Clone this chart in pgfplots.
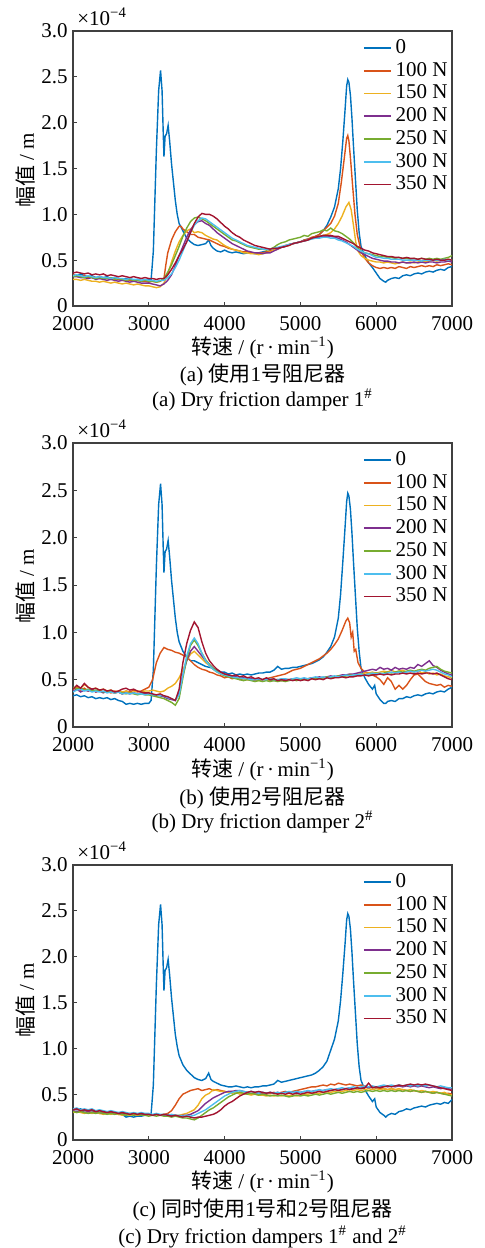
\documentclass[border=0pt]{standalone}
\usepackage{fontspec}
\setmainfont{Liberation Serif}
\newfontfamily\cjk{Noto Sans CJK SC}
\usepackage{pgfplots}
\pgfplotsset{compat=1.18}
\definecolor{c0}{RGB}{0,114,189}
\definecolor{c1}{RGB}{217,83,25}
\definecolor{c2}{RGB}{237,177,32}
\definecolor{c3}{RGB}{126,47,142}
\definecolor{c4}{RGB}{119,172,48}
\definecolor{c5}{RGB}{77,190,238}
\definecolor{c6}{RGB}{162,20,47}
\newcommand{\fs}{\fontsize{10.5}{12}\selectfont}
\pgfplotsset{legend image code/.code={\draw[#1, line width=0.9pt] (0pt,0pt) -- (13.5pt,0pt);}}
\pgfplotsset{panel/.style={
  scale only axis, width=189.5pt, anchor=south west,
  xmin=2000, xmax=7000, ymin=0, ymax=3,
  xtick={2000,3000,4000,5000,6000,7000},
  xticklabels={2000,3000,4000,5000,6000,7000},
  ytick={0,0.5,1,1.5,2,2.5,3},
  yticklabels={0,0.5,1.0,1.5,2.0,2.5,3.0},
  tick pos=left, tick align=inside, major tick length=2pt,
  ticklabel style={font=\fs, inner sep=0.5pt},
  xticklabel style={yshift=-4.8pt},
  yticklabel style={xshift=-2pt},
  axis line style={line width=0.6pt, black!75},
  every tick/.style={black!75, line width=0.5pt},
  every axis plot/.append style={line width=0.7pt, no markers},
  legend style={draw=none, fill=none, at={(1,1)}, anchor=north east,
    font=\fs, row sep=-1.1pt, inner sep=1pt, xshift=1pt, yshift=-1pt},
  legend cell align=left,
}}
\begin{document}
\begin{tikzpicture}
\useasboundingbox (0pt,0pt) rectangle (242pt,-624pt);
% ---------------- panel (a)
\begin{axis}[panel, height=137.5pt, at={(36.5pt,-153pt)}]
\addplot[c0] coordinates {(2000,.34)(2050,.33)(2100,.35)(2150,.33)(2200,.32)(2250,.33)(2300,.31)(2350,.32)(2400,.31)(2450,.32)(2500,.30)(2550,.31)(2600,.30)(2650,.29)(2700,.30)(2750,.29)(2800,.28)(2850,.29)(2900,.28)(2950,.28)(3000,.29)(3030,.28)(3060,.6)(3100,1.7)(3130,2.35)(3155,2.57)(3175,2.35)(3190,1.9)(3200,1.63)(3215,1.85)(3235,1.88)(3255,1.97)(3275,1.80)(3300,1.55)(3325,1.35)(3350,1.15)(3375,1.00)(3400,0.90)(3450,0.82)(3500,0.74)(3550,0.70)(3600,0.67)(3650,0.66)(3700,0.67)(3750,0.68)(3790,0.72)(3820,0.66)(3850,0.63)(3900,0.60)(3950,0.59)(4000,0.61)(4050,0.59)(4100,0.58)(4150,0.59)(4200,0.58)(4250,0.57)(4300,0.58)(4350,0.58)(4400,0.57)(4450,0.58)(4500,0.59)(4550,0.59)(4600,0.60)(4650,0.61)(4700,0.63)(4750,0.64)(4800,0.65)(4850,0.67)(4900,0.68)(4950,0.69)(5000,0.70)(5050,0.72)(5100,0.73)(5150,0.74)(5200,0.76)(5250,0.78)(5300,0.82)(5350,0.88)(5400,0.97)(5450,1.08)(5500,1.28)(5530,1.50)(5560,1.80)(5590,2.15)(5610,2.40)(5625,2.47)(5640,2.44)(5660,2.30)(5680,2.05)(5700,1.75)(5725,1.40)(5750,1.05)(5775,0.80)(5800,0.65)(5850,0.55)(5900,0.47)(5950,0.42)(6000,0.36)(6050,0.30)(6100,0.27)(6125,0.26)(6150,0.28)(6200,0.30)(6250,0.31)(6300,0.30)(6350,0.33)(6400,0.34)(6450,0.33)(6500,0.35)(6550,0.36)(6600,0.35)(6650,0.37)(6700,0.38)(6750,0.37)(6800,0.39)(6850,0.40)(6900,0.39)(6950,0.42)(7000,0.43)};
\addplot[c1] coordinates {(2000,.34)(2050,.33)(2100,.32)(2150,.33)(2200,.31)(2250,.32)(2300,.31)(2350,.30)(2400,.31)(2450,.30)(2500,.29)(2550,.30)(2600,.29)(2650,.28)(2700,.29)(2750,.28)(2800,.27)(2850,.28)(2900,.27)(2950,.27)(3000,.26)(3050,.27)(3100,.26)(3150,.27)(3200,.30)(3225,.45)(3250,.58)(3300,.72)(3350,.81)(3400,.87)(3425,.87)(3450,.84)(3500,.81)(3550,.78)(3600,.78)(3650,.75)(3700,.74)(3750,.73)(3800,.72)(3850,.70)(3900,.68)(3950,.66)(4000,.65)(4050,.63)(4100,.62)(4150,.61)(4200,.60)(4250,.59)(4300,.59)(4350,.58)(4400,.58)(4450,.58)(4500,.58)(4550,.59)(4600,.60)(4650,.61)(4700,.63)(4750,.64)(4800,.66)(4850,.67)(4900,.68)(4950,.69)(5000,.70)(5050,.72)(5100,.73)(5150,.75)(5200,.76)(5250,.78)(5300,.82)(5350,.86)(5400,.90)(5450,.98)(5500,1.12)(5540,1.35)(5580,1.62)(5610,1.83)(5625,1.86)(5640,1.80)(5660,1.62)(5690,1.30)(5720,1.00)(5750,.78)(5800,.60)(5850,.52)(5900,.47)(5950,.44)(6000,.42)(6050,.41)(6100,.42)(6150,.41)(6200,.42)(6250,.41)(6300,.43)(6350,.42)(6400,.41)(6450,.43)(6500,.42)(6550,.43)(6600,.44)(6650,.43)(6700,.44)(6750,.43)(6800,.45)(6850,.44)(6900,.45)(6950,.46)(7000,.45)};
\addplot[c2] coordinates {(2000,.29)(2050,.29)(2100,.28)(2150,.29)(2200,.28)(2250,.27)(2300,.27)(2350,.26)(2400,.27)(2450,.26)(2500,.25)(2550,.26)(2600,.25)(2650,.24)(2700,.25)(2750,.24)(2800,.23)(2850,.24)(2900,.23)(2950,.22)(3000,.22)(3050,.21)(3100,.20)(3150,.21)(3200,.25)(3250,.35)(3300,.48)(3350,.60)(3400,.70)(3450,.77)(3500,.82)(3550,.84)(3600,.80)(3650,.81)(3700,.80)(3750,.77)(3800,.75)(3850,.73)(3900,.72)(3950,.69)(4000,.66)(4050,.64)(4100,.62)(4150,.61)(4200,.60)(4250,.58)(4300,.58)(4350,.57)(4400,.57)(4450,.56)(4500,.57)(4550,.58)(4600,.59)(4650,.61)(4700,.62)(4750,.64)(4800,.65)(4850,.66)(4900,.68)(4950,.69)(5000,.70)(5050,.71)(5100,.72)(5150,.74)(5200,.75)(5250,.76)(5300,.77)(5350,.78)(5400,.80)(5450,.84)(5500,.90)(5550,.98)(5600,1.08)(5640,1.13)(5670,1.05)(5700,.88)(5730,.70)(5760,.60)(5800,.55)(5850,.52)(5900,.50)(5950,.49)(6000,.48)(6050,.48)(6100,.47)(6150,.48)(6200,.47)(6250,.46)(6300,.47)(6350,.48)(6400,.47)(6450,.48)(6500,.47)(6550,.48)(6600,.49)(6650,.48)(6700,.49)(6750,.50)(6800,.49)(6850,.50)(6900,.50)(6950,.51)(7000,.50)};
\addplot[c3] coordinates {(2000,.32)(2050,.32)(2100,.31)(2150,.31)(2200,.30)(2250,.31)(2300,.29)(2350,.30)(2400,.29)(2450,.28)(2500,.29)(2550,.28)(2600,.27)(2650,.28)(2700,.27)(2750,.26)(2800,.27)(2850,.26)(2900,.25)(2950,.25)(3000,.25)(3050,.24)(3100,.23)(3150,.22)(3200,.24)(3250,.28)(3300,.34)(3350,.44)(3400,.55)(3450,.65)(3500,.75)(3550,.83)(3600,.89)(3650,.92)(3700,.93)(3750,.90)(3800,.88)(3850,.84)(3900,.80)(3950,.77)(4000,.74)(4050,.71)(4100,.68)(4150,.66)(4200,.64)(4250,.62)(4300,.60)(4350,.59)(4400,.58)(4450,.58)(4500,.57)(4550,.58)(4600,.58)(4650,.60)(4700,.62)(4750,.64)(4800,.65)(4850,.67)(4900,.68)(4950,.69)(5000,.70)(5050,.71)(5100,.72)(5150,.74)(5200,.75)(5250,.75)(5300,.76)(5350,.76)(5400,.76)(5450,.75)(5500,.74)(5550,.72)(5600,.70)(5650,.67)(5700,.64)(5750,.61)(5800,.58)(5850,.56)(5900,.54)(5950,.52)(6000,.51)(6050,.50)(6100,.49)(6150,.49)(6200,.48)(6250,.48)(6300,.47)(6350,.48)(6400,.47)(6450,.47)(6500,.48)(6550,.47)(6600,.48)(6650,.47)(6700,.48)(6750,.48)(6800,.47)(6850,.48)(6900,.48)(6950,.49)(7000,.48)};
\addplot[c4] coordinates {(2000,.32)(2050,.33)(2100,.32)(2150,.31)(2200,.32)(2250,.31)(2300,.30)(2350,.31)(2400,.30)(2450,.30)(2500,.31)(2550,.29)(2600,.30)(2650,.29)(2700,.28)(2750,.29)(2800,.28)(2850,.28)(2900,.27)(2950,.28)(3000,.27)(3050,.27)(3100,.26)(3150,.27)(3200,.30)(3250,.37)(3300,.45)(3350,.55)(3400,.65)(3450,.76)(3500,.85)(3550,.92)(3600,.96)(3650,.97)(3700,.95)(3750,.93)(3800,.90)(3850,.87)(3900,.84)(3950,.81)(4000,.78)(4050,.75)(4100,.72)(4150,.71)(4200,.69)(4250,.67)(4300,.65)(4350,.64)(4400,.63)(4450,.62)(4500,.62)(4550,.61)(4600,.62)(4650,.64)(4700,.67)(4750,.69)(4800,.70)(4850,.72)(4900,.73)(4950,.74)(5000,.75)(5050,.77)(5100,.76)(5150,.79)(5200,.80)(5250,.81)(5300,.83)(5350,.82)(5400,.85)(5450,.82)(5500,.81)(5550,.79)(5600,.76)(5650,.73)(5700,.69)(5750,.64)(5800,.60)(5850,.58)(5900,.57)(5950,.56)(6000,.55)(6050,.54)(6100,.54)(6150,.53)(6200,.53)(6250,.52)(6300,.53)(6350,.52)(6400,.52)(6450,.51)(6500,.52)(6550,.51)(6600,.52)(6650,.51)(6700,.52)(6750,.51)(6800,.52)(6850,.51)(6900,.52)(6950,.53)(7000,.55)};
\addplot[c5] coordinates {(2000,.33)(2050,.34)(2100,.33)(2150,.32)(2200,.33)(2250,.32)(2300,.31)(2350,.32)(2400,.31)(2450,.31)(2500,.30)(2550,.31)(2600,.30)(2650,.30)(2700,.29)(2750,.30)(2800,.29)(2850,.29)(2900,.28)(2950,.29)(3000,.28)(3050,.28)(3100,.27)(3150,.28)(3200,.28)(3250,.31)(3300,.35)(3350,.42)(3400,.50)(3450,.60)(3500,.70)(3550,.80)(3600,.88)(3650,.93)(3700,.96)(3750,.95)(3800,.92)(3850,.89)(3900,.86)(3950,.83)(4000,.80)(4050,.77)(4100,.74)(4150,.72)(4200,.70)(4250,.68)(4300,.66)(4350,.65)(4400,.64)(4450,.63)(4500,.62)(4550,.62)(4600,.62)(4650,.63)(4700,.64)(4750,.65)(4800,.66)(4850,.67)(4900,.68)(4950,.69)(5000,.70)(5050,.71)(5100,.72)(5150,.73)(5200,.74)(5250,.74)(5300,.75)(5350,.75)(5400,.74)(5450,.74)(5500,.72)(5550,.71)(5600,.69)(5650,.67)(5700,.65)(5750,.62)(5800,.60)(5850,.58)(5900,.57)(5950,.55)(6000,.53)(6050,.53)(6100,.52)(6150,.52)(6200,.51)(6250,.51)(6300,.51)(6350,.50)(6400,.50)(6450,.50)(6500,.50)(6550,.50)(6600,.49)(6650,.50)(6700,.50)(6750,.50)(6800,.50)(6850,.50)(6900,.51)(6950,.50)(7000,.50)};
\addplot[c6] coordinates {(2000,.36)(2050,.37)(2100,.36)(2150,.35)(2200,.36)(2250,.34)(2300,.35)(2350,.34)(2400,.35)(2450,.33)(2500,.34)(2550,.33)(2600,.32)(2650,.33)(2700,.32)(2750,.31)(2800,.32)(2850,.31)(2900,.30)(2950,.31)(3000,.30)(3050,.30)(3100,.29)(3150,.30)(3200,.30)(3250,.34)(3300,.40)(3350,.47)(3400,.55)(3450,.62)(3500,.70)(3550,.80)(3600,.90)(3650,.97)(3700,1.01)(3750,1.00)(3800,1.00)(3850,.98)(3900,.95)(3950,.91)(4000,.87)(4050,.84)(4100,.80)(4150,.77)(4200,.75)(4250,.72)(4300,.70)(4350,.68)(4400,.66)(4450,.65)(4500,.64)(4550,.63)(4600,.62)(4650,.63)(4700,.63)(4750,.64)(4800,.65)(4850,.66)(4900,.68)(4950,.69)(5000,.70)(5050,.71)(5100,.72)(5150,.74)(5200,.75)(5250,.76)(5300,.77)(5350,.77)(5400,.77)(5450,.76)(5500,.76)(5550,.74)(5600,.72)(5650,.70)(5700,.68)(5750,.65)(5800,.63)(5850,.61)(5900,.60)(5950,.58)(6000,.57)(6050,.56)(6100,.55)(6150,.54)(6200,.54)(6250,.53)(6300,.53)(6350,.52)(6400,.53)(6450,.52)(6500,.52)(6550,.51)(6600,.52)(6650,.51)(6700,.51)(6750,.50)(6800,.51)(6850,.50)(6900,.50)(6950,.51)(7000,.50)};
\legend{0,100 N,150 N,200 N,250 N,300 N,350 N}
\end{axis}
% ---------------- panel (b)
\begin{axis}[panel, height=142pt, at={(36.5pt,-363.5pt)}]
\addplot[c0] coordinates {(2000,.33)(2050,.34)(2100,.32)(2150,.33)(2200,.31)(2250,.32)(2300,.30)(2350,.31)(2400,.30)(2450,.31)(2500,.29)(2550,.30)(2600,.28)(2650,.27)(2700,.24)(2750,.25)(2800,.24)(2850,.25)(2900,.24)(2950,.25)(3000,.25)(3030,.28)(3060,.6)(3100,1.7)(3130,2.35)(3155,2.57)(3175,2.35)(3190,1.9)(3200,1.63)(3215,1.85)(3235,1.88)(3255,1.97)(3275,1.80)(3300,1.55)(3325,1.35)(3350,1.15)(3375,1.00)(3400,0.90)(3450,0.80)(3500,0.74)(3550,0.70)(3600,0.70)(3650,0.68)(3700,0.66)(3750,0.64)(3800,0.63)(3850,0.62)(3900,0.60)(3950,0.58)(4000,0.58)(4050,0.56)(4100,0.57)(4150,0.55)(4200,0.56)(4250,0.55)(4300,0.56)(4350,0.55)(4400,0.56)(4450,0.57)(4500,0.57)(4550,0.58)(4600,0.58)(4650,0.60)(4700,0.64)(4750,0.61)(4800,0.62)(4850,0.62)(4900,0.63)(4950,0.63)(5000,0.64)(5050,0.65)(5100,0.66)(5150,0.67)(5200,0.69)(5250,0.71)(5300,0.74)(5350,0.79)(5400,0.85)(5450,0.95)(5500,1.15)(5530,1.40)(5560,1.75)(5590,2.12)(5610,2.38)(5625,2.47)(5640,2.44)(5660,2.30)(5680,2.05)(5700,1.75)(5725,1.40)(5750,1.05)(5775,0.80)(5800,0.62)(5850,0.52)(5900,0.45)(5950,0.40)(5980,0.44)(6000,0.35)(6050,0.29)(6100,0.25)(6125,0.25)(6150,0.27)(6200,0.28)(6250,0.27)(6300,0.30)(6350,0.30)(6400,0.32)(6450,0.31)(6500,0.33)(6550,0.34)(6600,0.33)(6650,0.35)(6700,0.36)(6750,0.35)(6800,0.37)(6850,0.38)(6900,0.37)(6950,0.40)(7000,0.42)};
\addplot[c1] coordinates {(2000,.40)(2050,.42)(2100,.39)(2150,.41)(2200,.38)(2250,.40)(2300,.37)(2350,.39)(2400,.37)(2450,.38)(2500,.36)(2550,.38)(2600,.37)(2650,.35)(2700,.38)(2750,.37)(2800,.39)(2850,.37)(2900,.38)(2950,.40)(3000,.42)(3050,.50)(3100,.68)(3150,.78)(3200,.84)(3250,.82)(3300,.81)(3350,.79)(3400,.78)(3450,.76)(3500,.74)(3550,.70)(3600,.66)(3650,.63)(3700,.61)(3750,.60)(3800,.58)(3850,.57)(3900,.55)(3950,.54)(4000,.52)(4050,.53)(4100,.51)(4150,.52)(4200,.50)(4250,.51)(4300,.50)(4350,.50)(4400,.49)(4450,.50)(4500,.50)(4550,.51)(4600,.52)(4650,.53)(4700,.54)(4750,.55)(4800,.56)(4850,.58)(4900,.60)(4950,.61)(5000,.62)(5050,.64)(5100,.66)(5150,.68)(5200,.70)(5250,.72)(5300,.75)(5350,.78)(5400,.82)(5450,.87)(5500,.93)(5550,1.02)(5600,1.12)(5625,1.15)(5650,1.10)(5670,.95)(5690,1.00)(5710,.80)(5730,.82)(5760,.68)(5800,.62)(5850,.58)(5900,.57)(5950,.55)(6000,.53)(6050,.50)(6100,.45)(6150,.52)(6200,.48)(6250,.40)(6300,.44)(6350,.40)(6400,.44)(6450,.50)(6500,.55)(6550,.56)(6600,.52)(6650,.48)(6700,.46)(6750,.45)(6800,.44)(6850,.45)(6900,.42)(6950,.44)(7000,.43)};
\addplot[c2] coordinates {(2000,.40)(2050,.43)(2100,.41)(2150,.45)(2200,.42)(2250,.40)(2300,.41)(2350,.39)(2400,.40)(2450,.38)(2500,.39)(2550,.37)(2600,.38)(2650,.37)(2700,.38)(2750,.36)(2800,.37)(2850,.38)(2900,.37)(2950,.38)(3000,.38)(3050,.39)(3100,.38)(3150,.37)(3200,.38)(3250,.41)(3300,.43)(3350,.46)(3400,.52)(3450,.60)(3500,.70)(3550,.77)(3600,.80)(3650,.76)(3700,.72)(3750,.68)(3800,.65)(3850,.61)(3900,.58)(3950,.56)(4000,.55)(4050,.54)(4100,.53)(4150,.52)(4200,.52)(4250,.51)(4300,.50)(4350,.51)(4400,.50)(4450,.49)(4500,.50)(4550,.50)(4600,.49)(4650,.50)(4700,.50)(4750,.49)(4800,.50)(4850,.50)(4900,.51)(4950,.50)(5000,.50)(5050,.51)(5100,.51)(5150,.52)(5200,.51)(5250,.52)(5300,.52)(5350,.53)(5400,.52)(5450,.53)(5500,.53)(5550,.54)(5600,.54)(5650,.55)(5700,.55)(5750,.56)(5800,.56)(5850,.57)(5900,.57)(5950,.58)(6000,.57)(6050,.58)(6100,.59)(6150,.58)(6200,.60)(6250,.58)(6300,.59)(6350,.60)(6400,.58)(6450,.59)(6500,.58)(6550,.60)(6600,.57)(6650,.58)(6700,.56)(6750,.57)(6800,.55)(6850,.56)(6900,.54)(6950,.53)(7000,.52)};
\addplot[c3] coordinates {(2000,.38)(2050,.40)(2100,.37)(2150,.39)(2200,.38)(2250,.40)(2300,.37)(2350,.38)(2400,.36)(2450,.38)(2500,.37)(2550,.36)(2600,.37)(2650,.35)(2700,.36)(2750,.35)(2800,.36)(2850,.35)(2900,.36)(2950,.35)(3000,.36)(3050,.34)(3100,.33)(3150,.33)(3200,.32)(3250,.30)(3300,.29)(3350,.28)(3400,.36)(3450,.55)(3500,.70)(3550,.80)(3600,.85)(3650,.80)(3700,.75)(3750,.70)(3800,.66)(3850,.62)(3900,.60)(3950,.58)(4000,.56)(4050,.55)(4100,.54)(4150,.53)(4200,.52)(4250,.52)(4300,.51)(4350,.51)(4400,.50)(4450,.50)(4500,.50)(4550,.51)(4600,.50)(4650,.49)(4700,.50)(4750,.49)(4800,.50)(4850,.50)(4900,.51)(4950,.50)(5000,.50)(5050,.51)(5100,.51)(5150,.52)(5200,.52)(5250,.53)(5300,.52)(5350,.53)(5400,.54)(5450,.53)(5500,.54)(5550,.55)(5600,.55)(5650,.56)(5700,.56)(5750,.57)(5800,.58)(5850,.59)(5900,.60)(5950,.61)(6000,.60)(6050,.63)(6100,.61)(6150,.62)(6200,.60)(6250,.63)(6300,.61)(6350,.62)(6400,.61)(6450,.63)(6500,.62)(6550,.66)(6600,.64)(6650,.67)(6700,.70)(6750,.65)(6800,.63)(6850,.60)(6900,.58)(6950,.56)(7000,.55)};
\addplot[c4] coordinates {(2000,.42)(2050,.40)(2100,.41)(2150,.39)(2200,.40)(2250,.38)(2300,.39)(2350,.38)(2400,.37)(2450,.38)(2500,.37)(2550,.36)(2600,.37)(2650,.36)(2700,.35)(2750,.36)(2800,.35)(2850,.34)(2900,.35)(2950,.34)(3000,.34)(3050,.33)(3100,.32)(3150,.31)(3200,.30)(3250,.28)(3300,.26)(3350,.23)(3400,.30)(3450,.52)(3500,.72)(3550,.86)(3600,.92)(3650,.86)(3700,.78)(3750,.71)(3800,.66)(3850,.62)(3900,.59)(3950,.56)(4000,.54)(4050,.53)(4100,.52)(4150,.51)(4200,.50)(4250,.49)(4300,.50)(4350,.49)(4400,.48)(4450,.49)(4500,.48)(4550,.49)(4600,.48)(4650,.49)(4700,.48)(4750,.49)(4800,.48)(4850,.49)(4900,.50)(4950,.49)(5000,.50)(5050,.50)(5100,.51)(5150,.51)(5200,.52)(5250,.51)(5300,.52)(5350,.53)(5400,.52)(5450,.53)(5500,.54)(5550,.53)(5600,.54)(5650,.55)(5700,.54)(5750,.55)(5800,.56)(5850,.55)(5900,.56)(5950,.56)(6000,.57)(6050,.56)(6100,.57)(6150,.58)(6200,.57)(6250,.58)(6300,.59)(6350,.58)(6400,.59)(6450,.60)(6500,.59)(6550,.60)(6600,.61)(6650,.60)(6700,.62)(6750,.63)(6800,.64)(6850,.61)(6900,.59)(6950,.58)(7000,.57)};
\addplot[c5] coordinates {(2000,.37)(2050,.39)(2100,.40)(2150,.38)(2200,.39)(2250,.37)(2300,.38)(2350,.37)(2400,.38)(2450,.36)(2500,.37)(2550,.36)(2600,.37)(2650,.35)(2700,.36)(2750,.35)(2800,.36)(2850,.35)(2900,.35)(2950,.34)(3000,.35)(3050,.34)(3100,.34)(3150,.33)(3200,.33)(3250,.31)(3300,.30)(3350,.28)(3400,.34)(3450,.55)(3500,.75)(3550,.88)(3600,.94)(3650,.88)(3700,.78)(3750,.70)(3800,.65)(3850,.61)(3900,.58)(3950,.56)(4000,.55)(4050,.54)(4100,.53)(4150,.52)(4200,.52)(4250,.51)(4300,.51)(4350,.50)(4400,.50)(4450,.51)(4500,.50)(4550,.50)(4600,.51)(4650,.50)(4700,.50)(4750,.51)(4800,.51)(4850,.50)(4900,.51)(4950,.52)(5000,.51)(5050,.52)(5100,.51)(5150,.52)(5200,.53)(5250,.52)(5300,.53)(5350,.52)(5400,.53)(5450,.54)(5500,.53)(5550,.54)(5600,.55)(5650,.54)(5700,.55)(5750,.55)(5800,.56)(5850,.55)(5900,.56)(5950,.57)(6000,.56)(6050,.57)(6100,.56)(6150,.57)(6200,.58)(6250,.57)(6300,.58)(6350,.57)(6400,.58)(6450,.59)(6500,.58)(6550,.59)(6600,.60)(6650,.59)(6700,.60)(6750,.61)(6800,.60)(6850,.58)(6900,.56)(6950,.55)(7000,.53)};
\addplot[c6] coordinates {(2000,.40)(2050,.44)(2100,.41)(2150,.46)(2200,.42)(2250,.40)(2300,.41)(2350,.39)(2400,.40)(2450,.38)(2500,.39)(2550,.37)(2600,.38)(2650,.40)(2700,.41)(2750,.39)(2800,.40)(2850,.38)(2900,.37)(2950,.36)(3000,.36)(3050,.35)(3100,.34)(3150,.35)(3200,.33)(3250,.32)(3300,.30)(3350,.28)(3400,.40)(3450,.68)(3500,.88)(3550,1.02)(3600,1.11)(3650,1.05)(3700,.90)(3750,.78)(3800,.70)(3850,.65)(3900,.61)(3950,.58)(4000,.56)(4050,.55)(4100,.54)(4150,.55)(4200,.53)(4250,.54)(4300,.52)(4350,.53)(4400,.51)(4450,.52)(4500,.50)(4550,.52)(4600,.50)(4650,.51)(4700,.49)(4750,.50)(4800,.49)(4850,.50)(4900,.49)(4950,.50)(5000,.49)(5050,.50)(5100,.49)(5150,.51)(5200,.50)(5250,.51)(5300,.50)(5350,.52)(5400,.51)(5450,.52)(5500,.52)(5550,.53)(5600,.52)(5650,.53)(5700,.53)(5750,.54)(5800,.54)(5850,.55)(5900,.54)(5950,.55)(6000,.55)(6050,.56)(6100,.55)(6150,.56)(6200,.55)(6250,.56)(6300,.56)(6350,.57)(6400,.56)(6450,.57)(6500,.56)(6550,.57)(6600,.56)(6650,.57)(6700,.57)(6750,.56)(6800,.57)(6850,.55)(6900,.53)(6950,.51)(7000,.50)};
\legend{0,100 N,150 N,200 N,250 N,300 N,350 N}
\end{axis}
% ---------------- panel (c)
\begin{axis}[panel, height=137.5pt, at={(36.5pt,-570pt)}]
\addplot[c0] coordinates {(2000,.34)(2050,.33)(2100,.34)(2150,.32)(2200,.33)(2250,.32)(2300,.31)(2350,.32)(2400,.31)(2450,.30)(2500,.31)(2550,.30)(2600,.29)(2650,.28)(2700,.25)(2750,.26)(2800,.25)(2850,.26)(2900,.26)(2950,.27)(3000,.28)(3030,.28)(3060,.6)(3100,1.7)(3130,2.35)(3155,2.57)(3175,2.35)(3190,1.9)(3200,1.63)(3215,1.85)(3235,1.88)(3255,1.97)(3275,1.80)(3300,1.55)(3325,1.35)(3350,1.15)(3375,1.02)(3400,0.92)(3450,0.82)(3500,0.76)(3550,0.72)(3600,0.68)(3650,0.66)(3700,0.65)(3750,0.67)(3790,0.73)(3820,0.66)(3850,0.64)(3900,0.62)(3950,0.60)(4000,0.59)(4050,0.58)(4100,0.58)(4150,0.59)(4200,0.58)(4250,0.57)(4300,0.58)(4350,0.57)(4400,0.58)(4450,0.58)(4500,0.59)(4550,0.59)(4600,0.60)(4650,0.61)(4700,0.65)(4750,0.63)(4800,0.64)(4850,0.65)(4900,0.66)(4950,0.67)(5000,0.68)(5050,0.69)(5100,0.70)(5150,0.71)(5200,0.73)(5250,0.76)(5300,0.80)(5350,0.86)(5400,0.98)(5450,1.10)(5500,1.30)(5530,1.52)(5560,1.82)(5590,2.15)(5610,2.40)(5625,2.47)(5640,2.44)(5660,2.30)(5680,2.05)(5700,1.75)(5725,1.40)(5750,1.05)(5775,0.80)(5800,0.65)(5850,0.55)(5900,0.48)(5950,0.42)(5980,0.45)(6000,0.36)(6050,0.30)(6100,0.27)(6125,0.25)(6150,0.27)(6200,0.29)(6250,0.28)(6300,0.31)(6350,0.32)(6400,0.34)(6450,0.33)(6500,0.35)(6550,0.36)(6600,0.37)(6650,0.36)(6700,0.38)(6750,0.39)(6800,0.40)(6850,0.39)(6900,0.41)(6950,0.40)(7000,0.44)};
\addplot[c1] coordinates {(2000,.31)(2050,.30)(2100,.32)(2150,.30)(2200,.31)(2250,.30)(2300,.31)(2350,.29)(2400,.30)(2450,.29)(2500,.30)(2550,.29)(2600,.28)(2650,.29)(2700,.28)(2750,.29)(2800,.28)(2850,.28)(2900,.29)(2950,.28)(3000,.28)(3050,.27)(3100,.28)(3150,.27)(3200,.28)(3250,.29)(3300,.32)(3350,.38)(3400,.45)(3450,.50)(3500,.52)(3550,.54)(3600,.55)(3650,.56)(3700,.54)(3750,.55)(3800,.56)(3850,.54)(3900,.55)(3950,.54)(4000,.53)(4050,.52)(4100,.53)(4150,.51)(4200,.52)(4250,.50)(4300,.51)(4350,.50)(4400,.51)(4450,.50)(4500,.51)(4550,.50)(4600,.51)(4650,.52)(4700,.51)(4750,.52)(4800,.53)(4850,.52)(4900,.53)(4950,.54)(5000,.55)(5050,.56)(5100,.57)(5150,.58)(5200,.58)(5250,.59)(5300,.60)(5350,.59)(5400,.61)(5450,.60)(5500,.62)(5550,.61)(5600,.60)(5650,.61)(5700,.60)(5750,.59)(5800,.60)(5850,.59)(5900,.58)(5950,.57)(6000,.57)(6050,.56)(6100,.56)(6150,.55)(6200,.56)(6250,.55)(6300,.54)(6350,.55)(6400,.54)(6450,.53)(6500,.54)(6550,.53)(6600,.52)(6650,.53)(6700,.52)(6750,.51)(6800,.52)(6850,.51)(6900,.50)(6950,.51)(7000,.50)};
\addplot[c2] coordinates {(2000,.30)(2050,.31)(2100,.30)(2150,.29)(2200,.30)(2250,.29)(2300,.30)(2350,.29)(2400,.28)(2450,.29)(2500,.28)(2550,.29)(2600,.28)(2650,.27)(2700,.28)(2750,.27)(2800,.28)(2850,.27)(2900,.28)(2950,.27)(3000,.28)(3050,.27)(3100,.28)(3150,.27)(3200,.27)(3250,.28)(3300,.27)(3350,.27)(3400,.27)(3450,.28)(3500,.29)(3550,.31)(3600,.33)(3650,.38)(3700,.45)(3750,.49)(3800,.51)(3850,.55)(3900,.54)(3950,.53)(4000,.53)(4050,.52)(4100,.51)(4150,.52)(4200,.50)(4250,.51)(4300,.50)(4350,.49)(4400,.50)(4450,.49)(4500,.49)(4550,.48)(4600,.49)(4650,.48)(4700,.49)(4750,.48)(4800,.49)(4850,.48)(4900,.49)(4950,.48)(5000,.49)(5050,.50)(5100,.50)(5150,.51)(5200,.50)(5250,.51)(5300,.52)(5350,.51)(5400,.52)(5450,.53)(5500,.52)(5550,.53)(5600,.54)(5650,.53)(5700,.54)(5750,.55)(5800,.54)(5850,.55)(5900,.56)(5950,.55)(6000,.56)(6050,.55)(6100,.56)(6150,.55)(6200,.56)(6250,.55)(6300,.56)(6350,.55)(6400,.54)(6450,.55)(6500,.54)(6550,.53)(6600,.54)(6650,.53)(6700,.52)(6750,.53)(6800,.52)(6850,.51)(6900,.52)(6950,.50)(7000,.49)};
\addplot[c3] coordinates {(2000,.32)(2050,.31)(2100,.32)(2150,.30)(2200,.31)(2250,.30)(2300,.31)(2350,.30)(2400,.29)(2450,.30)(2500,.29)(2550,.30)(2600,.29)(2650,.28)(2700,.29)(2750,.28)(2800,.29)(2850,.28)(2900,.28)(2950,.27)(3000,.28)(3050,.27)(3100,.28)(3150,.27)(3200,.27)(3250,.28)(3300,.27)(3350,.27)(3400,.26)(3450,.27)(3500,.27)(3550,.28)(3600,.30)(3650,.32)(3700,.36)(3750,.40)(3800,.43)(3850,.46)(3900,.48)(3950,.50)(4000,.52)(4050,.53)(4100,.53)(4150,.54)(4200,.54)(4250,.53)(4300,.52)(4350,.53)(4400,.52)(4450,.51)(4500,.52)(4550,.51)(4600,.52)(4650,.51)(4700,.52)(4750,.51)(4800,.52)(4850,.51)(4900,.52)(4950,.52)(5000,.52)(5050,.53)(5100,.52)(5150,.53)(5200,.54)(5250,.53)(5300,.54)(5350,.55)(5400,.54)(5450,.55)(5500,.56)(5550,.55)(5600,.56)(5650,.57)(5700,.56)(5750,.57)(5800,.57)(5850,.58)(5900,.57)(5950,.58)(6000,.57)(6050,.58)(6100,.59)(6150,.58)(6200,.59)(6250,.58)(6300,.59)(6350,.58)(6400,.59)(6450,.58)(6500,.59)(6550,.58)(6600,.59)(6650,.58)(6700,.57)(6750,.58)(6800,.57)(6850,.56)(6900,.57)(6950,.56)(7000,.55)};
\addplot[c4] coordinates {(2000,.31)(2050,.30)(2100,.31)(2150,.30)(2200,.29)(2250,.30)(2300,.29)(2350,.30)(2400,.29)(2450,.28)(2500,.29)(2550,.28)(2600,.29)(2650,.28)(2700,.27)(2750,.28)(2800,.27)(2850,.28)(2900,.27)(2950,.27)(3000,.26)(3050,.27)(3100,.26)(3150,.27)(3200,.26)(3250,.26)(3300,.25)(3350,.26)(3400,.25)(3450,.24)(3500,.24)(3550,.23)(3600,.22)(3650,.24)(3700,.27)(3750,.30)(3800,.33)(3850,.35)(3900,.38)(3950,.41)(4000,.44)(4050,.47)(4100,.49)(4150,.51)(4200,.52)(4250,.51)(4300,.50)(4350,.51)(4400,.50)(4450,.49)(4500,.50)(4550,.49)(4600,.48)(4650,.49)(4700,.48)(4750,.49)(4800,.48)(4850,.47)(4900,.48)(4950,.49)(5000,.48)(5050,.49)(5100,.48)(5150,.49)(5200,.50)(5250,.49)(5300,.50)(5350,.51)(5400,.50)(5450,.51)(5500,.52)(5550,.51)(5600,.52)(5650,.53)(5700,.52)(5750,.53)(5800,.52)(5850,.53)(5900,.54)(5950,.53)(6000,.54)(6050,.53)(6100,.54)(6150,.53)(6200,.54)(6250,.53)(6300,.54)(6350,.53)(6400,.54)(6450,.53)(6500,.54)(6550,.53)(6600,.52)(6650,.53)(6700,.52)(6750,.51)(6800,.52)(6850,.51)(6900,.50)(6950,.49)(7000,.48)};
\addplot[c5] coordinates {(2000,.34)(2050,.35)(2100,.33)(2150,.34)(2200,.33)(2250,.34)(2300,.32)(2350,.33)(2400,.32)(2450,.31)(2500,.32)(2550,.31)(2600,.30)(2650,.31)(2700,.30)(2750,.29)(2800,.30)(2850,.29)(2900,.30)(2950,.29)(3000,.29)(3050,.28)(3100,.29)(3150,.28)(3200,.28)(3250,.27)(3300,.28)(3350,.27)(3400,.27)(3450,.26)(3500,.27)(3550,.26)(3600,.27)(3650,.29)(3700,.31)(3750,.33)(3800,.36)(3850,.39)(3900,.42)(3950,.45)(4000,.48)(4050,.50)(4100,.52)(4150,.53)(4200,.54)(4250,.53)(4300,.52)(4350,.53)(4400,.52)(4450,.51)(4500,.52)(4550,.51)(4600,.52)(4650,.51)(4700,.52)(4750,.51)(4800,.52)(4850,.53)(4900,.52)(4950,.53)(5000,.52)(5050,.53)(5100,.54)(5150,.53)(5200,.54)(5250,.55)(5300,.54)(5350,.55)(5400,.56)(5450,.55)(5500,.56)(5550,.57)(5600,.56)(5650,.57)(5700,.58)(5750,.57)(5800,.58)(5850,.59)(5900,.58)(5950,.59)(6000,.58)(6050,.59)(6100,.60)(6150,.59)(6200,.60)(6250,.59)(6300,.60)(6350,.59)(6400,.60)(6450,.59)(6500,.60)(6550,.59)(6600,.60)(6650,.59)(6700,.60)(6750,.59)(6800,.58)(6850,.59)(6900,.58)(6950,.57)(7000,.57)};
\addplot[c6] coordinates {(2000,.33)(2050,.34)(2100,.32)(2150,.33)(2200,.32)(2250,.33)(2300,.31)(2350,.32)(2400,.31)(2450,.30)(2500,.31)(2550,.30)(2600,.29)(2650,.30)(2700,.29)(2750,.28)(2800,.29)(2850,.28)(2900,.29)(2950,.28)(3000,.28)(3050,.27)(3100,.28)(3150,.27)(3200,.28)(3250,.27)(3300,.26)(3350,.27)(3400,.26)(3450,.25)(3500,.26)(3550,.25)(3600,.24)(3650,.25)(3700,.25)(3750,.26)(3800,.27)(3850,.28)(3900,.30)(3950,.33)(4000,.37)(4050,.40)(4100,.42)(4150,.45)(4200,.48)(4250,.50)(4300,.52)(4350,.53)(4400,.52)(4450,.53)(4500,.52)(4550,.51)(4600,.52)(4650,.51)(4700,.50)(4750,.51)(4800,.50)(4850,.51)(4900,.50)(4950,.51)(5000,.50)(5050,.51)(5100,.52)(5150,.51)(5200,.52)(5250,.53)(5300,.52)(5350,.53)(5400,.54)(5450,.55)(5500,.54)(5550,.55)(5600,.56)(5650,.55)(5700,.56)(5750,.57)(5800,.56)(5850,.57)(5900,.62)(5950,.57)(6000,.58)(6050,.57)(6100,.58)(6150,.59)(6200,.58)(6250,.59)(6300,.60)(6350,.59)(6400,.60)(6450,.61)(6500,.60)(6550,.61)(6600,.60)(6650,.61)(6700,.60)(6750,.59)(6800,.58)(6850,.57)(6900,.56)(6950,.55)(7000,.54)};
\legend{0,100 N,150 N,200 N,250 N,300 N,350 N}
\end{axis}
% ---------------- texts
\begin{scope}[every node/.style={font=\fs, inner sep=0pt}]
\node[anchor=base west] at (38.5pt,-12.5pt) {×10\textsuperscript{−4}};
\node[anchor=base west] at (38.5pt,-218.5pt) {×10\textsuperscript{−4}};
\node[anchor=base west] at (38.5pt,-429.5pt) {×10\textsuperscript{−4}};
\node[rotate=90] at (13pt,-85pt) {{\cjk 幅值} / m};
\node[rotate=90] at (13pt,-293pt) {{\cjk 幅值} / m};
\node[rotate=90] at (13pt,-500pt) {{\cjk 幅值} / m};
\node at (131.25pt,-174pt) {{\cjk 转速} / (r\,·\,min\textsuperscript{−1})};
\node at (131.25pt,-187.5pt) {(a) {\cjk 使用}1{\cjk 号阻尼器}};
\node at (131.25pt,-200pt) {(a) Dry friction damper 1\textsuperscript{\#}};
\node at (131.25pt,-385pt) {{\cjk 转速} / (r\,·\,min\textsuperscript{−1})};
\node at (131.25pt,-399pt) {(b) {\cjk 使用}2{\cjk 号阻尼器}};
\node at (131.25pt,-411pt) {(b) Dry friction damper 2\textsuperscript{\#}};
\node at (131.25pt,-591pt) {{\cjk 转速} / (r\,·\,min\textsuperscript{−1})};
\node at (131.25pt,-605pt) {(c) {\cjk 同时使用}1{\cjk 号和}2{\cjk 号阻尼器}};
\node at (131.25pt,-618.5pt) {(c) Dry friction dampers 1\textsuperscript{\#} and 2\textsuperscript{\#}};
\end{scope}
\end{tikzpicture}
\end{document}
